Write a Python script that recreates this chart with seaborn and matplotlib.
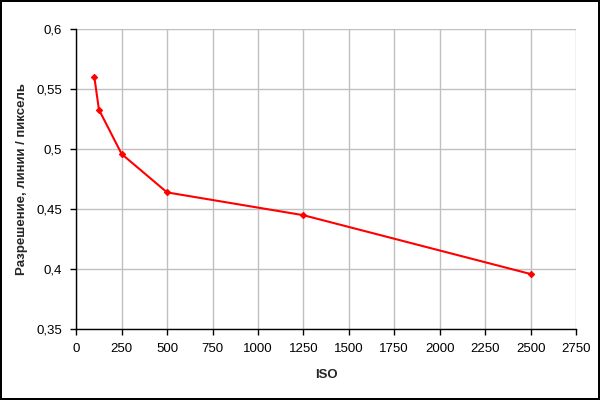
import numpy as np
import pandas as pd
import matplotlib
matplotlib.use("Agg")
import matplotlib.pyplot as plt
from matplotlib.ticker import FuncFormatter, MultipleLocator
import seaborn as sns

iso = [100, 125, 250, 500, 1250, 2500]
resolution = [0.56, 0.533, 0.496, 0.464, 0.445, 0.396]

df = pd.DataFrame({"ISO": iso, "res": resolution})

sns.set_style("white")
plt.rcParams["font.family"] = ["Liberation Sans", "DejaVu Sans"]

fig = plt.figure(figsize=(6, 4), dpi=100)
fig.patch.set_edgecolor("black")
fig.patch.set_linewidth(1.5)
ax = fig.add_axes([0.127, 0.177, 0.833, 0.75])

sns.lineplot(data=df, x="ISO", y="res", ax=ax, color="#ff0000", linewidth=1.5,
             marker="D", markersize=3.2, markeredgecolor="#ff0000")

ax.set_xlim(0, 2750)
ax.set_ylim(0.35, 0.6)
ax.xaxis.set_major_locator(MultipleLocator(250))
ax.yaxis.set_major_locator(MultipleLocator(0.05))
ax.yaxis.set_major_formatter(FuncFormatter(lambda v, p: f"{v:g}".replace(".", ",")))
ax.grid(True, color="#c0c0c0", linewidth=1)
for s in ["top", "right"]:
    ax.spines[s].set_visible(False)
for s in ["left", "bottom"]:
    ax.spines[s].set_color("black")
    ax.spines[s].set_linewidth(1)
ax.tick_params(axis="both", direction="out", length=4, width=1, colors="black",
               labelsize=9.5, left=True, bottom=True, pad=6)

ax.set_xlabel("ISO", fontsize=9.5, fontweight="bold", labelpad=10)
ax.set_ylabel("Разрешение, линии / пиксель", fontsize=9.5, fontweight="bold", labelpad=6)

fig.savefig("out.png", dpi=100)
